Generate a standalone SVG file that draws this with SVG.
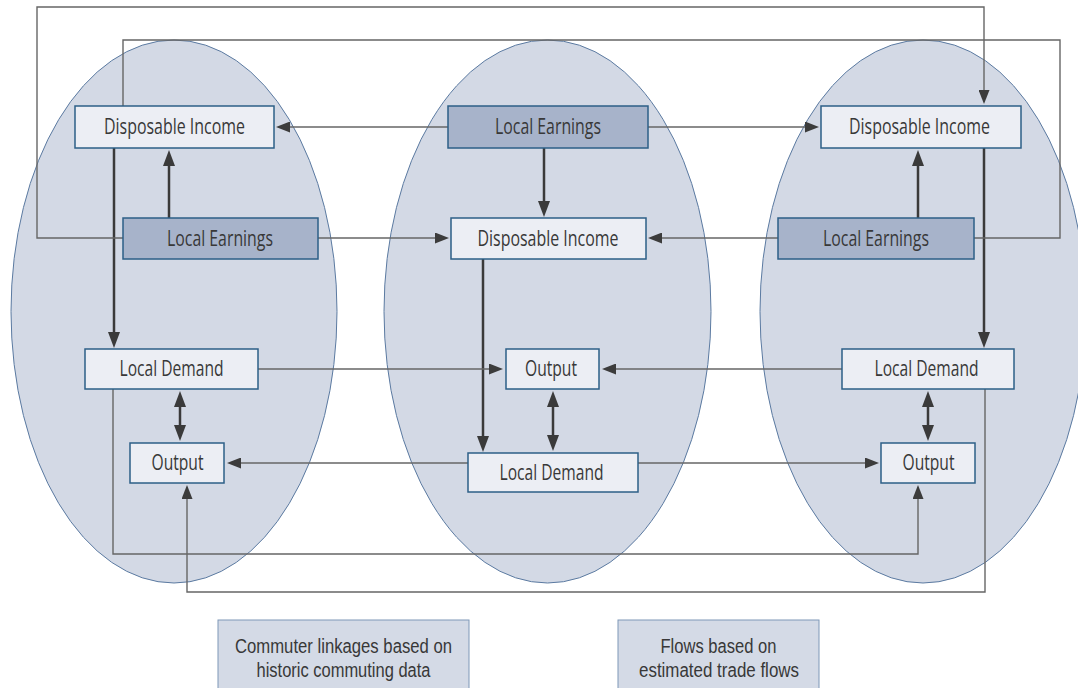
<svg xmlns="http://www.w3.org/2000/svg" width="1078" height="688" viewBox="0 0 1078 688">
<style>
.region{fill:#d3d9e5;stroke:#5b7aa1;stroke-width:1}
.box{fill:#eceef4;stroke:#2d5f87;stroke-width:1.5}
.earn{fill:#a7b3ca;stroke:#2d5f87;stroke-width:1.5}
.legend{fill:#d4dae6;stroke:#7f98b8;stroke-width:1}
text{font-family:"Open Sans","Liberation Sans",sans-serif;font-size:21px;fill:#383838;text-anchor:middle}
text.lg{font-family:"Liberation Sans","Open Sans",sans-serif;font-size:20px}
.thin{fill:none;stroke:#666666;stroke-width:1.4}
.thick{fill:none;stroke:#3a3a3a;stroke-width:2.5}
</style>
<defs>
<marker id="ah" markerUnits="userSpaceOnUse" markerWidth="14" markerHeight="11" refX="7" refY="5.5" orient="auto-start-reverse">
<path d="M0,0 L14,5.5 L0,11 Z" fill="#3c3c3c"/>
</marker>
<marker id="ahb" markerUnits="userSpaceOnUse" markerWidth="16" markerHeight="12" refX="8" refY="6" orient="auto-start-reverse">
<path d="M0,0 L16,6 L0,12 Z" fill="#3a3a3a"/>
</marker>
</defs>
<rect width="1078" height="688" fill="#ffffff"/>
<g id="regions">
<ellipse class="region" cx="174" cy="311.5" rx="163" ry="271.5"/>
<ellipse class="region" cx="547.5" cy="311.5" rx="163.5" ry="271.5"/>
<ellipse class="region" cx="923" cy="311.5" rx="163" ry="271.5"/>
</g>
<g id="connectors">
<path class="thick" d="M169,218 V158" marker-end="url(#ahb)"/>
<path class="thick" d="M114,148 V340" marker-end="url(#ahb)"/>
<path class="thick" d="M180,399 V433" marker-start="url(#ahb)" marker-end="url(#ahb)"/>
<path class="thick" d="M544,148 V209" marker-end="url(#ahb)"/>
<path class="thick" d="M483,259 V444" marker-end="url(#ahb)"/>
<path class="thick" d="M553,399 V443" marker-start="url(#ahb)" marker-end="url(#ahb)"/>
<path class="thick" d="M918,218 V158" marker-end="url(#ahb)"/>
<path class="thick" d="M984,148 V340" marker-end="url(#ahb)"/>
<path class="thick" d="M928,399 V433" marker-start="url(#ahb)" marker-end="url(#ahb)"/>
<path class="thin" d="M448,127 H283" marker-end="url(#ah)"/>
<path class="thin" d="M648,127 H812" marker-end="url(#ah)"/>
<path class="thin" d="M318,238 H442" marker-end="url(#ah)"/>
<path class="thin" d="M778,238 H655" marker-end="url(#ah)"/>
<path class="thin" d="M123,238 H37 V7 H984 V97" marker-end="url(#ah)"/>
<path class="thin" d="M974,238 H1060 V40 H123 V106"/>
<path class="thin" d="M258,369 H496" marker-end="url(#ah)"/>
<path class="thin" d="M842,369 H609" marker-end="url(#ah)"/>
<path class="thin" d="M468,463 H234" marker-end="url(#ah)"/>
<path class="thin" d="M638,463 H872" marker-end="url(#ah)"/>
<path class="thin" d="M113,389 V554 H918 V492" marker-end="url(#ah)"/>
<path class="thin" d="M985,389 V592 H187 V492" marker-end="url(#ah)"/>
</g>
<g id="left-disposable-income"><rect class="box" x="75" y="106" width="199" height="42"/><text x="174.5" y="134" textLength="141" lengthAdjust="spacingAndGlyphs">Disposable Income</text></g>
<g id="left-local-earnings"><rect class="earn" x="123" y="218" width="195" height="41"/><text x="220" y="245.5" textLength="106" lengthAdjust="spacingAndGlyphs">Local Earnings</text></g>
<g id="left-local-demand"><rect class="box" x="85" y="349" width="173" height="40"/><text x="171.5" y="376" textLength="104" lengthAdjust="spacingAndGlyphs">Local Demand</text></g>
<g id="left-output"><rect class="box" x="130" y="443" width="94" height="40"/><text x="177.5" y="470" textLength="52" lengthAdjust="spacingAndGlyphs">Output</text></g>
<g id="mid-local-earnings"><rect class="earn" x="448" y="106" width="200" height="42"/><text x="548" y="134" textLength="106" lengthAdjust="spacingAndGlyphs">Local Earnings</text></g>
<g id="mid-disposable-income"><rect class="box" x="451" y="218" width="195" height="41"/><text x="548" y="245.5" textLength="141" lengthAdjust="spacingAndGlyphs">Disposable Income</text></g>
<g id="mid-output"><rect class="box" x="506" y="349" width="93" height="40"/><text x="551" y="376" textLength="52" lengthAdjust="spacingAndGlyphs">Output</text></g>
<g id="mid-local-demand"><rect class="box" x="468" y="453" width="170" height="39"/><text x="551.5" y="479.5" textLength="104" lengthAdjust="spacingAndGlyphs">Local Demand</text></g>
<g id="right-disposable-income"><rect class="box" x="821" y="106" width="200" height="42"/><text x="919.5" y="134" textLength="141" lengthAdjust="spacingAndGlyphs">Disposable Income</text></g>
<g id="right-local-earnings"><rect class="earn" x="778" y="218" width="196" height="41"/><text x="876" y="245.5" textLength="106" lengthAdjust="spacingAndGlyphs">Local Earnings</text></g>
<g id="right-local-demand"><rect class="box" x="842" y="349" width="172" height="40"/><text x="926.5" y="376" textLength="104" lengthAdjust="spacingAndGlyphs">Local Demand</text></g>
<g id="right-output"><rect class="box" x="881" y="443" width="94" height="40"/><text x="928.5" y="470" textLength="52" lengthAdjust="spacingAndGlyphs">Output</text></g>
<g id="legend-commuter"><rect class="legend" x="218" y="620" width="251" height="80"/><text class="lg" x="343.5" y="653" textLength="217" lengthAdjust="spacingAndGlyphs">Commuter linkages based on</text><text class="lg" x="343.5" y="677" textLength="174" lengthAdjust="spacingAndGlyphs">historic commuting data</text></g>
<g id="legend-trade"><rect class="legend" x="618" y="620" width="201" height="80"/><text class="lg" x="718.5" y="653" textLength="116" lengthAdjust="spacingAndGlyphs">Flows based on</text><text class="lg" x="719" y="677" textLength="160" lengthAdjust="spacingAndGlyphs">estimated trade flows</text></g>
</svg>
